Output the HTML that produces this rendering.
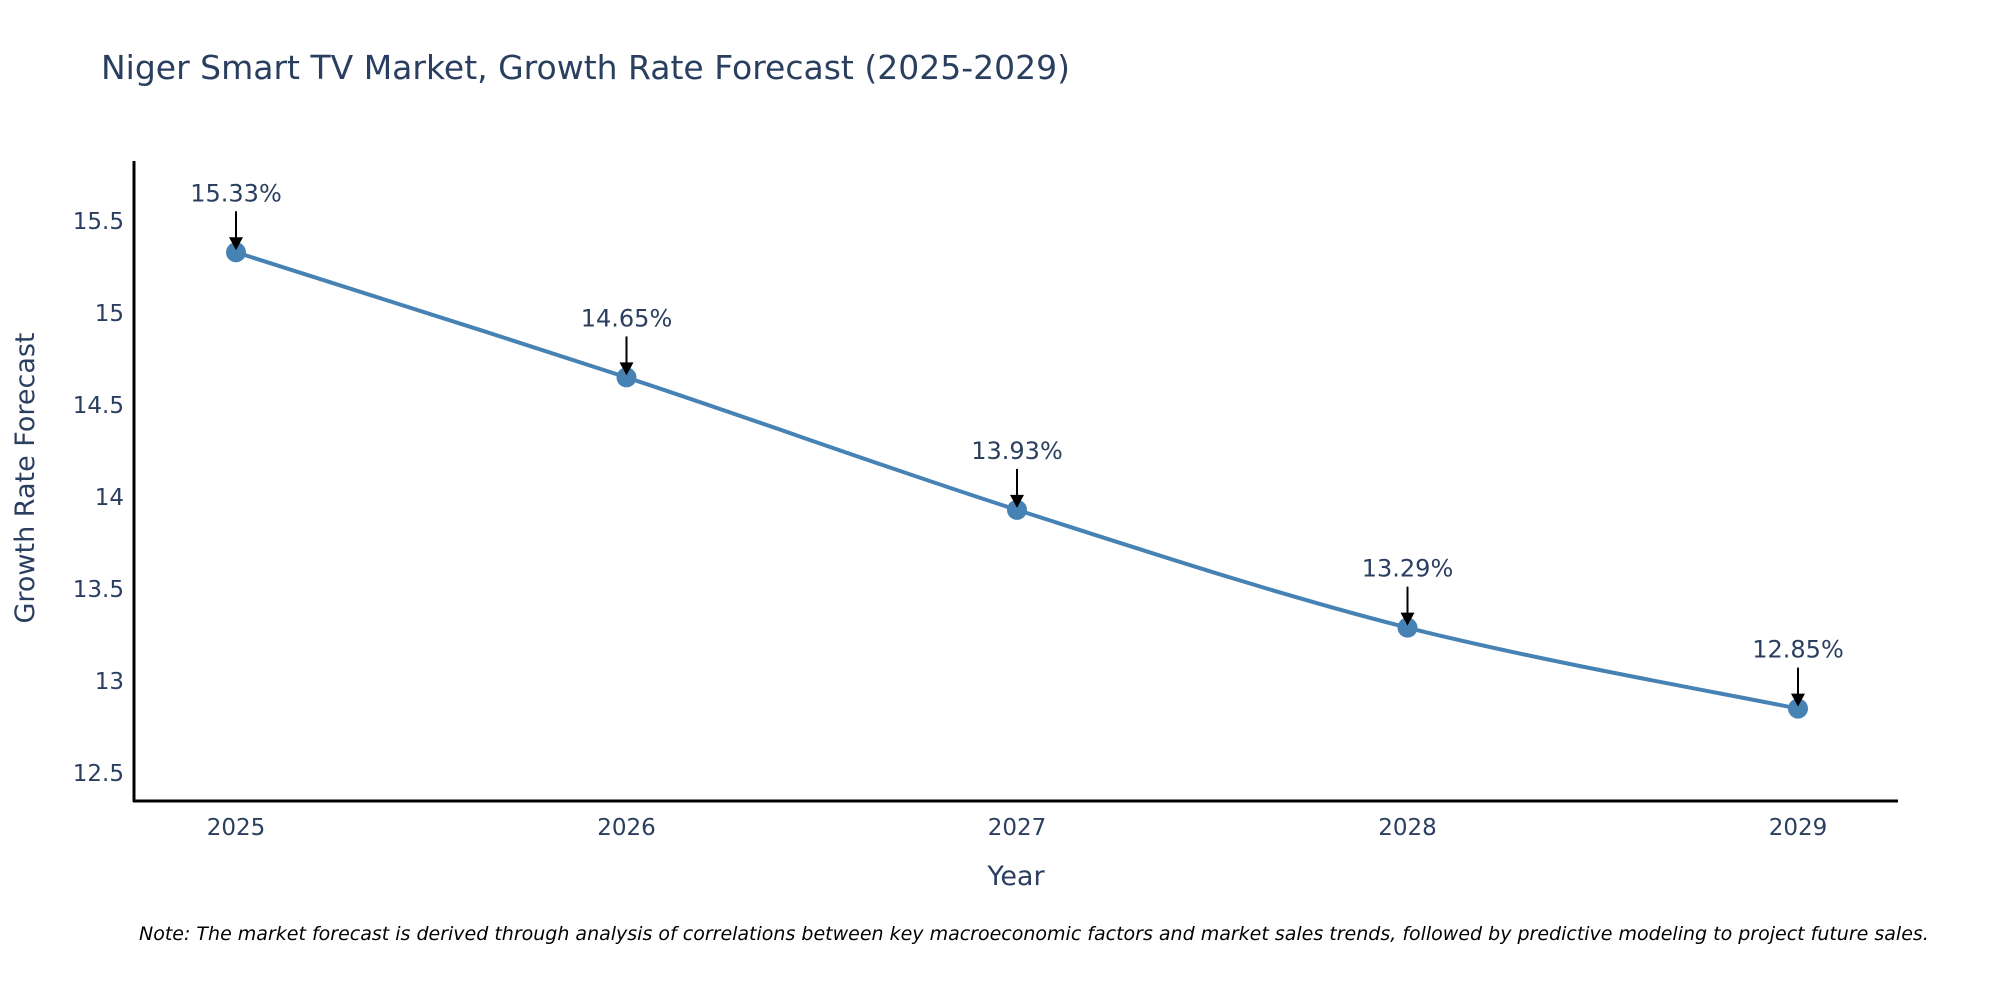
<!DOCTYPE html>
<html><head><meta charset="utf-8"><style>
body{margin:0;background:#fff}
svg{display:block;font-family:"DejaVu Sans","Liberation Sans",sans-serif}
</style></head><body>
<svg id="chart" width="2000" height="1000">
<text x="101" y="79" font-size="33" fill="#2a3f5f">Niger Smart TV Market, Growth Rate Forecast (2025-2029)</text>
<g id="yticks"></g>
<g id="xticks"></g>
<path id="line" fill="none" stroke="#4682b4" stroke-width="4"/>
<g id="points"></g>
<g id="annos"></g>
<line x1="134" y1="161" x2="134" y2="802" stroke="#000" stroke-width="3"/>
<line x1="133" y1="801" x2="1898" y2="801" stroke="#000" stroke-width="3"/>
<text transform="translate(34,478) rotate(-90)" text-anchor="middle" font-size="27" fill="#2a3f5f">Growth Rate Forecast</text>
<text x="1016" y="885" text-anchor="middle" font-size="27" fill="#2a3f5f">Year</text>
<text x="139" y="940" font-size="19" font-style="italic" fill="#000">Note: The market forecast is derived through analysis of correlations between key macroeconomic factors and market sales trends, followed by predictive modeling to project future sales.</text>
</svg>
<script>
const years = [2025, 2026, 2027, 2028, 2029];
const values = [15.33, 14.65, 13.93, 13.29, 12.85];
const yTicks = [12.5, 13, 13.5, 14, 14.5, 15, 15.5];
const yTickLabels = ["12.5", "13", "13.5", "14", "14.5", "15", "15.5"];

const NS = "http://www.w3.org/2000/svg";
function x(v){ return 236 + (v - 2025) * 390.5; }
function y(v){ return 221 + (15.5 - v) * 184; }
function mk(tag, attrs, parent, txt){
  const e = document.createElementNS(NS, tag);
  for (const k in attrs) e.setAttribute(k, attrs[k]);
  if (txt !== undefined) e.textContent = txt;
  parent.appendChild(e); return e;
}
const yg = document.getElementById('yticks');
yTicks.forEach((t, i) => {
  const e = mk('text', {x: 124, y: y(t) + 8, 'text-anchor': 'end', 'font-size': 23, fill: '#2a3f5f'}, yg, yTickLabels[i]);
  
  
});
const xg = document.getElementById('xticks');
years.forEach(yr => {
  const e = mk('text', {x: x(yr), y: 835, 'text-anchor': 'middle', 'font-size': 23, fill: '#2a3f5f'}, xg, String(yr));
  
  
});
const pts = years.map((yr, i) => [x(yr), y(values[i])]);
let d = `M${pts[0][0]},${pts[0][1]}`;
for (let i = 0; i < pts.length - 1; i++) {
  const p0 = pts[i-1] || pts[i], p1 = pts[i], p2 = pts[i+1], p3 = pts[i+2] || pts[i+1];
  const s = 6;
  d += ` C${p1[0]+(p2[0]-p0[0])/s},${p1[1]+(p2[1]-p0[1])/s} ${p2[0]-(p3[0]-p1[0])/s},${p2[1]-(p3[1]-p1[1])/s} ${p2[0]},${p2[1]}`;
}
document.getElementById('line').setAttribute('d', d);
const pg = document.getElementById('points');
const ag = document.getElementById('annos');
pts.forEach((p, i) => {
  const c = mk('circle', {cx: p[0], cy: p[1], r: 10, fill: '#4682b4'}, pg);
  
  
  const l = mk('line', {x1: p[0], y1: p[1] - 41, x2: p[0], y2: p[1] - 14, stroke: '#000', 'stroke-width': 2}, ag);
  
  
  const h = mk('path', {d: `M${p[0]-7},${p[1]-15} L${p[0]+7},${p[1]-15} L${p[0]},${p[1]-2} Z`, fill: '#000'}, ag);
  
  
  const t = mk('text', {x: p[0], y: p[1] - 51, 'text-anchor': 'middle', 'font-size': 24, fill: '#2a3f5f'}, ag, values[i].toFixed(2) + '%');
  
  
});
</script>
</body></html>
